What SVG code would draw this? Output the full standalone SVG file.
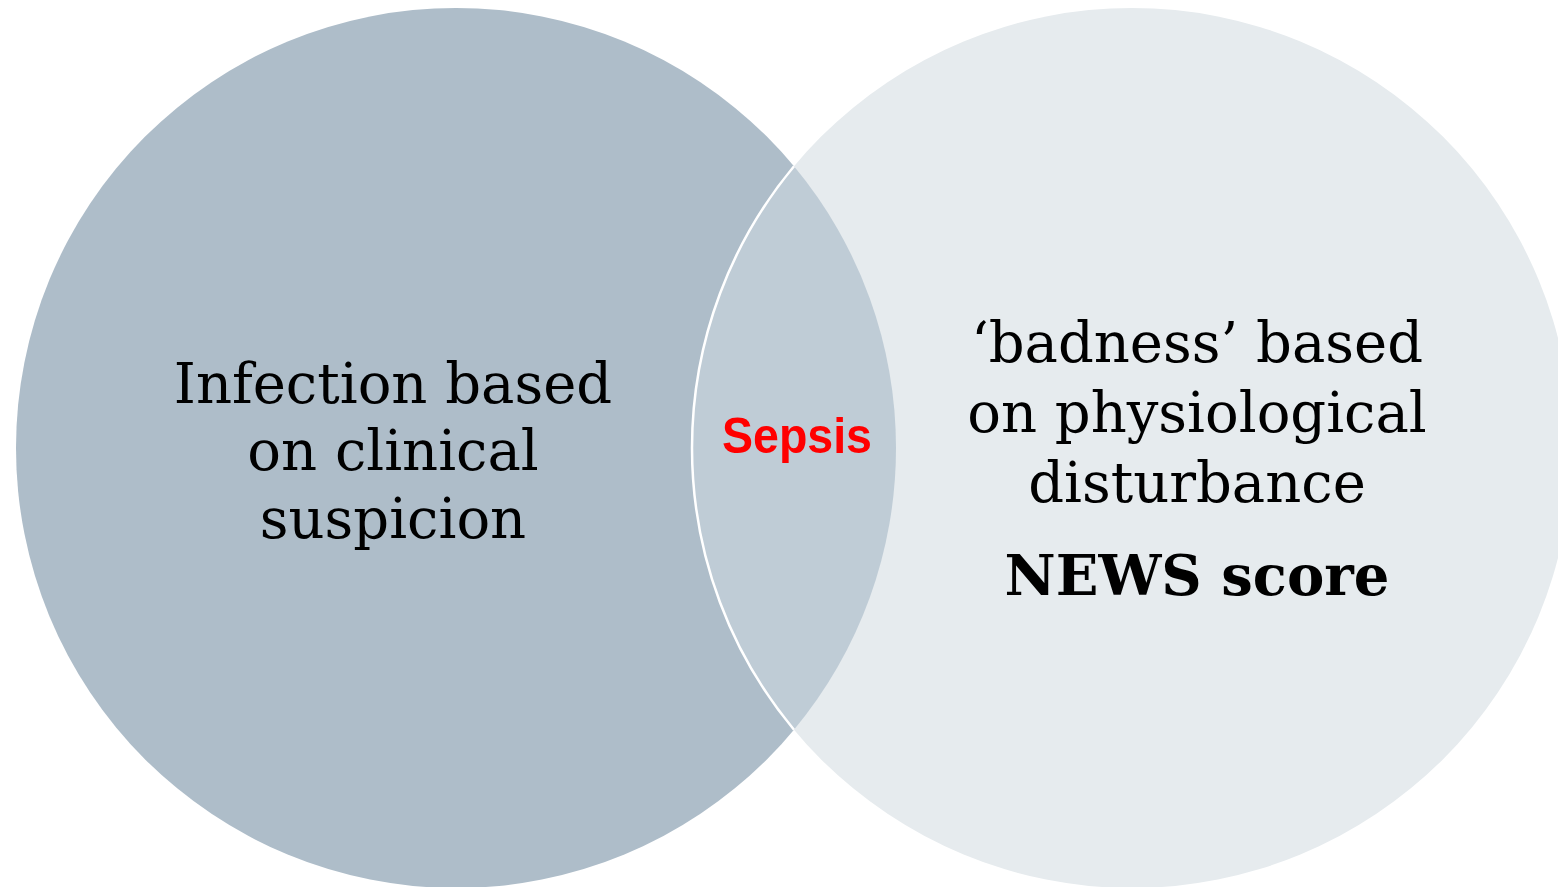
<svg xmlns="http://www.w3.org/2000/svg" width="1558" height="887" viewBox="0 0 1558 887">
  <style>
    .label { font-family: "DejaVu Serif", "Liberation Serif", serif; fill: #000000; text-anchor: middle; }
    .body { font-size: 56px; }
    .strong { font-size: 56px; font-weight: bold; }
    .core { font-family: "Liberation Sans", Arial, sans-serif; font-weight: bold; font-size: 50px; fill: #ff0000; text-anchor: middle; }
  </style>
  <rect width="1558" height="887" fill="#ffffff"/>

  <!-- Infection set -->
  <g id="infection">
    <circle cx="456" cy="448" r="440" fill="#aebdc9"/>
    <text class="label body" x="393" y="403">Infection based</text>
    <text class="label body" x="393" y="470">on clinical</text>
    <text class="label body" x="393" y="538">suspicion</text>
  </g>

  <!-- Physiological disturbance set -->
  <g id="badness">
    <circle cx="1132" cy="448" r="440" fill="#e6ebee"/>
    <text class="label body" x="1197" y="362">‘badness’ based</text>
    <text class="label body" x="1197" y="432">on physiological</text>
    <text class="label body" x="1197" y="502">disturbance</text>
    <text class="label strong" x="1197" y="595">NEWS score</text>
  </g>

  <!-- Overlap of the two sets -->
  <g id="sepsis">
    <path d="M794 166.3 A440 440 0 0 1 794 729.7 A440 440 0 0 1 794 166.3 Z" fill="#bfccd6"/>
    <path d="M794 166.3 A440 440 0 0 0 794 729.7" fill="none" stroke="#ffffff" stroke-width="2.5"/>
    <text class="core" x="797" y="453" textLength="150" lengthAdjust="spacingAndGlyphs">Sepsis</text>
  </g>

  <g id="connectors"/>
</svg>
